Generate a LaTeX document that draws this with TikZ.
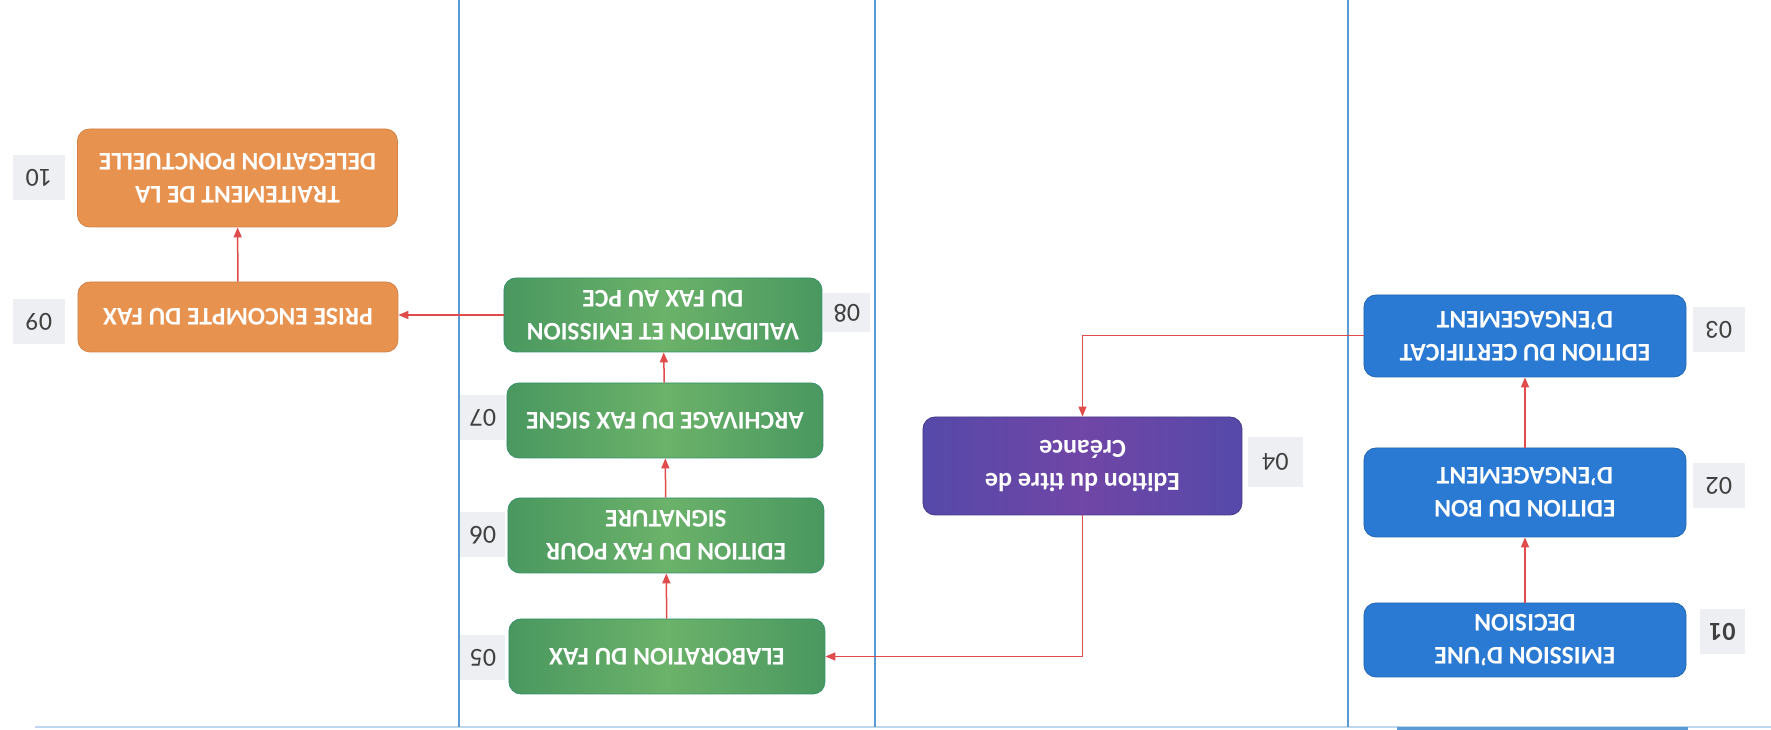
\documentclass[tikz,border=0pt]{standalone}
\usepackage{fontspec}
\setmainfont{Carlito}
\usetikzlibrary{arrows.meta}

\definecolor{laneblue}{HTML}{5B9BD5}
\definecolor{lanepale}{HTML}{BFD7EE}
\definecolor{stepblue}{HTML}{2A7AD3}
\definecolor{stepgreen}{HTML}{4A9860}
\definecolor{stepgreenlight}{HTML}{6BB26A}
\definecolor{steporange}{HTML}{E8924F}
\definecolor{steppurple}{HTML}{5549A9}
\definecolor{stepmagenta}{HTML}{7046A6}
\definecolor{flowred}{HTML}{E04B4B}
\definecolor{tagbg}{HTML}{EDEFF2}
\definecolor{tagtext}{HTML}{404040}

\tikzset{
  stepbox/.style={rounded corners=12pt, minimum width=322pt, text=white,
    font=\bfseries\fontsize{25.5}{33}\selectfont, align=center, inner sep=0pt,
    line width=0.8pt},
  bluestep/.style={stepbox, fill=stepblue, draw=stepblue!85!black},
  greenstep/.style={stepbox, left color=stepgreen, right color=stepgreen,
    middle color=stepgreenlight, draw=stepgreen!70!teal},
  orangestep/.style={stepbox, fill=steporange, draw=steporange!90!black},
  purplestep/.style={stepbox, left color=steppurple, right color=steppurple,
    middle color=stepmagenta, draw=steppurple!80!black,
    font=\bfseries\fontsize{26}{33}\selectfont},
  tag/.style={fill=tagbg, minimum width=52pt, minimum height=45pt,
    text=tagtext, font=\fontsize{26}{30}\selectfont, inner sep=0pt},
  flow/.style={draw=flowred, line width=1.5pt,
    -{Triangle[length=10pt,width=8pt]}},
  lane/.style={draw=laneblue, line width=1.3pt}
}

\begin{document}
\begin{tikzpicture}[x=1pt, y=-1pt, rotate=180, transform shape]
  \useasboundingbox (0,0) rectangle (1771,730);

  % swimlane separators and top rule
  \draw[draw=lanepale, line width=1.5pt] (0,3) -- (1736,3);
  \draw[draw=laneblue, line width=3pt] (83,1) -- (374,1);
  \draw[lane] (423,3) -- (423,730);
  \draw[lane] (896,3) -- (896,730);
  \draw[lane] (1312,3) -- (1312,730);

  % lane 1: commitment
  \node[bluestep, minimum height=74pt] (b01) at (246,90) {EMISSION D’UNE\\DECISION};
  \node[bluestep, minimum height=89pt] (b02) at (246,237.5) {EDITION DU BON\\D’ENGAGEMENT};
  \node[bluestep, minimum height=82pt] (b03) at (246,394) {EDITION DU CERTIFICAT\\D’ENGAGEMENT};
  \node[tag, minimum width=45pt, font=\bfseries\fontsize{26}{30}\selectfont] (t01) at (48.5,98.5) {01};
  \node[tag] (t02) at (52,244.5) {02};
  \node[tag] (t03) at (52,400) {03};

  % lane 2: claim
  \node[purplestep, minimum width=319pt, minimum height=98pt] (b04) at (688.5,264) {Edition du titre de\\Créance};
  \node[tag, minimum width=55pt, minimum height=50pt] (t04) at (495.5,268) {04};

  % lane 3: fax
  \node[greenstep, minimum width=316pt, minimum height=75pt] (b05) at (1104,73.5) {ELABORATION DU FAX};
  \node[greenstep, minimum width=316pt, minimum height=75pt] (b06) at (1105,194.5) {EDITION DU FAX POUR\\SIGNATURE};
  \node[greenstep, minimum width=316pt, minimum height=75pt] (b07) at (1106,309.5) {ARCHIVAGE DU FAX SIGNE};
  \node[greenstep, minimum width=318pt, minimum height=74pt] (b08) at (1108,415) {VALIDATION ET EMISSION\\DU FAX AU PCE};
  \node[tag, minimum width=45pt] (t05) at (1288,72.5) {05};
  \node[tag, minimum width=45pt] (t06) at (1288,195) {06};
  \node[tag, minimum width=45pt] (t07) at (1288,312) {07};
  \node[tag, minimum width=47pt, minimum height=39pt] (t08) at (924,417) {08};

  % lane 4: delegation
  \node[orangestep, minimum width=320pt, minimum height=70pt] (b09) at (1533,413) {PRISE ENCOMPTE DU FAX};
  \node[orangestep, minimum width=320pt, minimum height=98pt] (b10) at (1533.5,552) {TRAITEMENT DE LA\\DELEGATION PONCTUELLE};
  \node[tag] (t09) at (1732,408) {09};
  \node[tag] (t10) at (1732,552.5) {10};

  % flow
  \draw[flow] (b01) -- (b02);
  \draw[flow] (b02) -- (b03);
  \draw[flow, line width=1pt] (b03.east) -| (b04.south);
  \draw[flow] (b04.north) |- (b05.west);
  \draw[flow] (b05) -- (b06);
  \draw[flow] (b06) -- (b07);
  \draw[flow] (b07) -- (b08);
  \draw[flow] (b08.east) -- (b08.east -| b09.west);
  \draw[flow] (b09) -- (b10);
\end{tikzpicture}
\end{document}
